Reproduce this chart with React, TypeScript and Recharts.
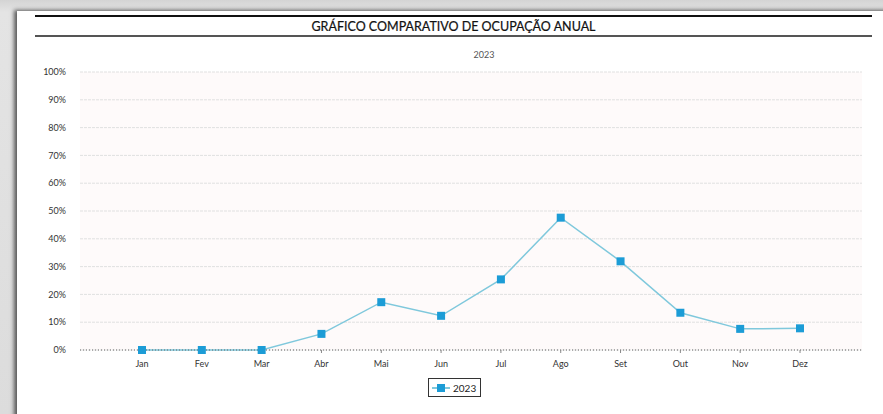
import { LineChart, Line, XAxis, YAxis, CartesianGrid } from 'recharts'

// Ocupação mensal (%)
const months = ['Jan', 'Fev', 'Mar', 'Abr', 'Mai', 'Jun', 'Jul', 'Ago', 'Set', 'Out', 'Nov', 'Dez']
const occupancy2023 = [0, 0, 0, 5.8, 17.2, 12.3, 25.4, 47.6, 31.9, 13.4, 7.6, 7.8]
const yTicks = [0, 10, 20, 30, 40, 50, 60, 70, 80, 90, 100]
const seriesName = '2023'

const data = months.map((m, i) => ({ month: m, v2023: occupancy2023[i] }))

const LINE = '#7fc8dc'
const MARKER = '#1c9cd6'
const FONT = 'Lato, "Open Sans", sans-serif'

function SquareDot(props: any) {
  const { cx, cy, index } = props
  if (cx == null || cy == null) return null
  return <rect key={'d' + index} x={cx - 4} y={cy - 4} width={8} height={8} fill={MARKER} />
}

export default function App() {
  return (
    <div
      style={{
        position: 'absolute',
        left: 0,
        top: 0,
        width: 883,
        height: 414,
        overflow: 'hidden',
        background: 'linear-gradient(#d4d4d4, #e4e4e4 12px, #dcdcdc)',
      }}
    >
      <div
        style={{
          position: 'absolute',
          left: 17,
          top: 11,
          width: 880,
          height: 420,
          background: '#fff',
          boxShadow: '-3px -1px 4px 0px rgba(0,0,0,0.6)',
        }}
      />
      {/* cabeçalho */}
      <div style={{ position: 'absolute', left: 35, top: 15, width: 837, height: 2, background: '#111' }} />
      <div style={{ position: 'absolute', left: 35, top: 35, width: 837, height: 1.5, background: '#555' }} />
      <div
        style={{
          position: 'absolute',
          left: 35,
          top: 19,
          width: 837,
          textAlign: 'center',
          fontFamily: FONT,
          fontSize: 12.5,
          color: '#111',
          lineHeight: '16px',
          WebkitTextStroke: '0.2px #111',
        }}
      >
        GRÁFICO COMPARATIVO DE OCUPAÇÃO ANUAL
      </div>
      <div
        style={{
          position: 'absolute',
          left: 434,
          top: 49,
          width: 100,
          textAlign: 'center',
          fontFamily: FONT,
          fontSize: 9,
          color: '#555',
          lineHeight: '12px',
        }}
      >
        {seriesName}
      </div>
      <div style={{ position: 'absolute', left: 0, top: 0 }}>
        <LineChart width={883} height={414} data={data} margin={{ top: 72, right: 21, bottom: 34, left: 0 }}>
          <CartesianGrid vertical={false} stroke="#e0e0e0" strokeDasharray="3 1" fill="#fefafa" />
          <XAxis
            dataKey="month"
            height={30}
            padding={{ left: 62, right: 62 }}
            axisLine={{ stroke: '#666', strokeDasharray: '1 2' }}
            tickLine={{ stroke: '#888' }}
            tickSize={3}
            tickMargin={8}
            tick={{ fontSize: 9, fill: '#333', fontFamily: FONT }}
            interval={0}
          />
          <YAxis
            width={80}
            domain={[0, 100]}
            ticks={yTicks}
            tickFormatter={(v) => v + '%'}
            axisLine={false}
            tickLine={false}
            tickSize={0}
            tickMargin={14}
            tick={{ fontSize: 9, fill: '#333', fontFamily: FONT }}
          />
          <Line
            type="linear"
            dataKey="v2023"
            name={seriesName}
            stroke={LINE}
            strokeWidth={1.5}
            dot={<SquareDot />}
            activeDot={false}
            isAnimationActive={false}
          />
        </LineChart>
      </div>
      {/* legenda */}
      <div
        style={{
          position: 'absolute',
          left: 428,
          top: 378,
          height: 17,
          display: 'flex',
          alignItems: 'center',
          border: '1.5px solid #333',
          padding: '0 4px 0 3px',
          fontFamily: FONT,
          fontSize: 10,
          color: '#222',
          background: '#fff',
        }}
      >
        <svg width={18} height={10} style={{ marginRight: 3 }}>
          <line x1={0} y1={5} x2={18} y2={5} stroke={LINE} strokeWidth={2} />
          <rect x={5} y={1} width={8} height={8} fill={MARKER} />
        </svg>
        {seriesName}
      </div>
    </div>
  )
}
